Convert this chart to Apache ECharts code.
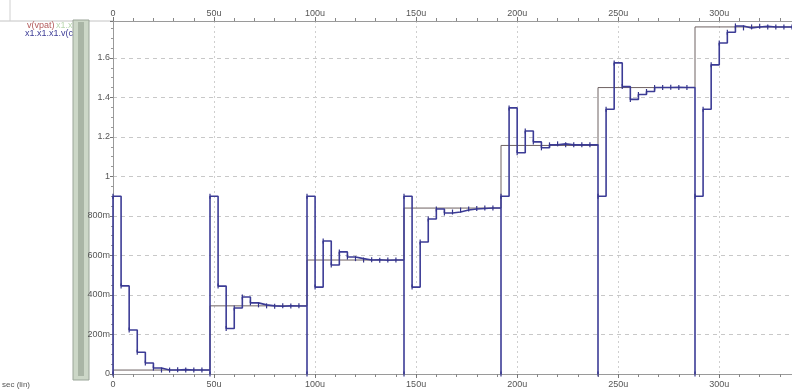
<!DOCTYPE html>
<html>
<head>
<meta charset="utf-8">
<script src="https://cdn.jsdelivr.net/npm/echarts@6/dist/echarts.min.js"></script>
<style>
  html, body { margin: 0; padding: 0; background: #fff; }
  #chart { width: 792px; height: 391px; }
</style>
</head>
<body>
<div id="chart"></div>
<script>
// time axis in microseconds
var periodStart = [0, 48, 96, 144, 192, 240, 288];
var endTime = 336;
var stepDt = 4;
var firstLevel = 0.9;

// v(vpat): reference staircase, one level per period
var refLevel = [0.02, 0.345, 0.577, 0.84, 1.157, 1.45, 1.757];

// x1.x1.x1.v(c: sampled output after the first 0.9 sample, one value every 4u
var out1 = [0.446, 0.223, 0.11, 0.056, 0.03, 0.02, 0.02, 0.022, 0.02, 0.02, 0.02];
var out2 = [0.445, 0.23, 0.334, 0.39, 0.36, 0.35, 0.345, 0.343, 0.345, 0.344, 0.345];
var out3 = [0.44, 0.673, 0.552, 0.618, 0.592, 0.584, 0.577, 0.578, 0.576, 0.577, 0.577];
var out4 = [0.44, 0.668, 0.785, 0.835, 0.815, 0.82, 0.83, 0.835, 0.838, 0.84, 0.84];
var out5 = [1.347, 1.12, 1.23, 1.175, 1.145, 1.16, 1.165, 1.16, 1.16, 1.16, 1.16];
var out6 = [1.34, 1.575, 1.455, 1.39, 1.415, 1.43, 1.45, 1.45, 1.452, 1.45, 1.45];
var out7 = [1.34, 1.565, 1.676, 1.73, 1.762, 1.752, 1.757, 1.76, 1.757, 1.757, 1.757];
var outSteps = [out1, out2, out3, out4, out5, out6, out7];

// build series data
var refData = [];
periodStart.forEach(function (s, i) { refData.push([s, refLevel[i]]); });
refData.push([endTime, refLevel[refLevel.length - 1]]);

var outData = [];
periodStart.forEach(function (s, i) {
  outData.push([s, 0]);
  outData.push([s, firstLevel]);
  outSteps[i].forEach(function (v, k) {
    outData.push([s + stepDt * (k + 1), v]);
  });
});
var lastOut = outSteps[outSteps.length - 1];
outData.push([endTime, lastOut[lastOut.length - 1]]);

var labelFont = 'Liberation Sans';

function yFmt(v) {
  if (v === 0) return '0';
  if (v < 0.999) return Math.round(v * 1000) + 'm';
  return String(+v.toFixed(1));
}
function xFmt(v) {
  return v === 0 ? '0' : Math.round(v) + 'u';
}

function xAxisOf(pos, margin) {
  return {
    type: 'value',
    position: pos,
    min: 0,
    max: endTime,
    interval: 50,
    axisLine: { show: true, lineStyle: { color: '#9a9a9a', width: 1 } },
    axisTick: { show: true, length: 4, lineStyle: { color: '#777' } },
    minorTick: { show: true, splitNumber: 5, length: 3, lineStyle: { color: '#888' } },
    axisLabel: {
      formatter: xFmt, color: '#555', fontSize: 9, fontFamily: labelFont,
      margin: margin, showMaxLabel: false
    },
    splitLine: { show: pos === 'bottom', lineStyle: { color: '#cfcfcf', type: [2, 3] } }
  };
}

var chart = echarts.init(document.getElementById('chart'));
var option = {
  animation: false,
  backgroundColor: '#fff',
  grid: { left: 113, right: 0, top: 21, bottom: 17 },
  xAxis: [xAxisOf('bottom', 6), xAxisOf('top', 3)],
  yAxis: {
    type: 'value',
    min: 0,
    max: 1.787,
    interval: 0.2,
    axisLine: { show: true, lineStyle: { color: '#9a9a9a', width: 1 } },
    axisTick: { show: true, length: 3, lineStyle: { color: '#777' } },
    minorTick: { show: true, splitNumber: 4, length: 2, lineStyle: { color: '#999' } },
    axisLabel: {
      formatter: yFmt, color: '#555', fontSize: 9, fontFamily: labelFont,
      margin: 3, showMaxLabel: false
    },
    splitLine: { show: true, lineStyle: { color: '#c8c8c8', type: [4, 4] } }
  },
  series: [
    {
      name: 'v(vpat)',
      type: 'line',
      step: 'end',
      data: refData,
      showSymbol: false,
      lineStyle: { color: '#6e6262', width: 1 },
      z: 2
    },
    {
      name: 'x1.x1.x1.v(c',
      type: 'line',
      step: 'end',
      data: outData,
      symbol: 'rect',
      symbolSize: [1.2, 5],
      itemStyle: { color: '#34348c' },
      lineStyle: { color: '#3c3c96', width: 1.6 },
      z: 3
    }
  ],
  graphic: [
    { type: 'line', shape: { x1: 0, y1: 21, x2: 113, y2: 21 }, style: { stroke: '#c4c4c4', lineWidth: 1 } },
    { type: 'line', shape: { x1: 10, y1: 0, x2: 10, y2: 21 }, style: { stroke: '#d0d0d0', lineWidth: 1 } },
    { type: 'rect', shape: { x: 73, y: 20, width: 16, height: 360 }, style: { fill: '#ccd7c7', stroke: '#9aa598', lineWidth: 1 } },
    { type: 'rect', shape: { x: 78, y: 22, width: 6, height: 354 }, style: { fill: '#a9b5a5' } },
    { type: 'text', left: 27, top: 21, style: { text: 'v(vpat)', fill: '#b25a5a', font: '9px Liberation Sans' } },
    { type: 'text', left: 56, top: 21, style: { text: 'x1.x', fill: '#b9d8b0', font: '9px Liberation Sans' } },
    { type: 'text', left: 25, top: 29, style: { text: 'x1.x1.x1.v(c', fill: '#3c3c96', font: '9px Liberation Sans' } },
    { type: 'text', left: 2, top: 381, style: { text: 'sec (lin)', fill: '#555', font: '8px Liberation Sans' } }
  ]
};
chart.setOption(option);
</script>
</body>
</html>
